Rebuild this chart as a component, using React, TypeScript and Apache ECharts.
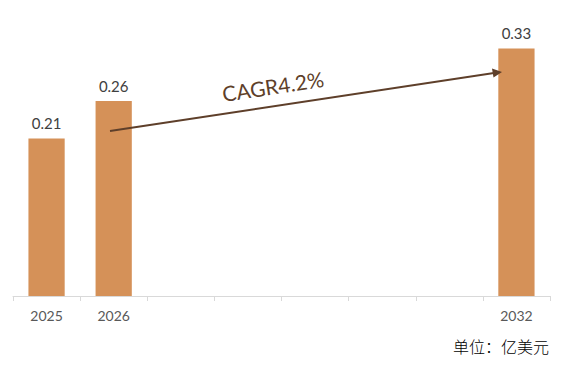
import React, { useEffect, useRef } from "react";
import * as echarts from "echarts";

const categories = ["2025", "2026", "", "", "", "", "", "2032"];
const values: (number | null)[] = [0.21, 0.26, null, null, null, null, null, 0.33];
const cagrText = "CAGR4.2%";
const unitText = "单位：亿美元";

export default function App() {
  const ref = useRef<HTMLDivElement>(null);
  useEffect(() => {
    if (!ref.current) return;
    const chart = echarts.init(ref.current, null, { renderer: "svg" });
    chart.setOption({
      animation: false,
      backgroundColor: "#ffffff",
      grid: { left: 13, right: 14, top: 33.5, bottom: 69, containLabel: false },
      xAxis: {
        type: "category",
        data: categories,
        boundaryGap: true,
        axisLine: { lineStyle: { color: "#d9d9d9", width: 1 } },
        axisTick: { show: true, length: 5, lineStyle: { color: "#d9d9d9" } },
        axisLabel: { color: "#595959", fontSize: 14, fontFamily: "Lato", margin: 12 },
      },
      yAxis: {
        type: "value",
        min: 0,
        max: 0.35,
        show: false,
        splitLine: { show: false },
      },
      series: [
        {
          type: "bar",
          data: values,
          barWidth: "54%",
          itemStyle: { color: "#D59158" },
          label: {
            show: true,
            position: "top",
            distance: 8,
            color: "#404040",
            fontSize: 15,
            fontFamily: "Lato",
            formatter: (p: any) => (p.value == null ? "" : Number(p.value).toFixed(2)),
          },
        },
      ],
      graphic: [
        {
          type: "line",
          z: 100,
          shape: { x1: 110, y1: 131, x2: 494, y2: 73 },
          style: { stroke: "#5E3F2A", lineWidth: 2 },
        },
        {
          type: "polygon",
          z: 100,
          shape: { points: [[502, 72], [492, 68.5], [493.5, 77.5]] },
          style: { fill: "#5E3F2A" },
        },
        {
          type: "text",
          z: 100,
          x: 273,
          y: 86,
          rotation: (8.6 * Math.PI) / 180,
          style: {
            text: cagrText,
            fill: "#5E3F2A",
            fontSize: 21,
            fontFamily: "Lato",
            align: "center",
            verticalAlign: "middle",
          },
        },
        {
          type: "text",
          z: 100,
          right: 15,
          top: 338,
          style: {
            text: unitText,
            fill: "#000000",
            fontSize: 16,
            fontWeight: 300,
            fontFamily: "Noto Sans CJK SC",
          },
        },
      ],
    });
    return () => chart.dispose();
  }, []);
  return (
    <div
      ref={ref}
      style={{ position: "fixed", left: 0, top: 0, width: 564, height: 365 }}
    />
  );
}
